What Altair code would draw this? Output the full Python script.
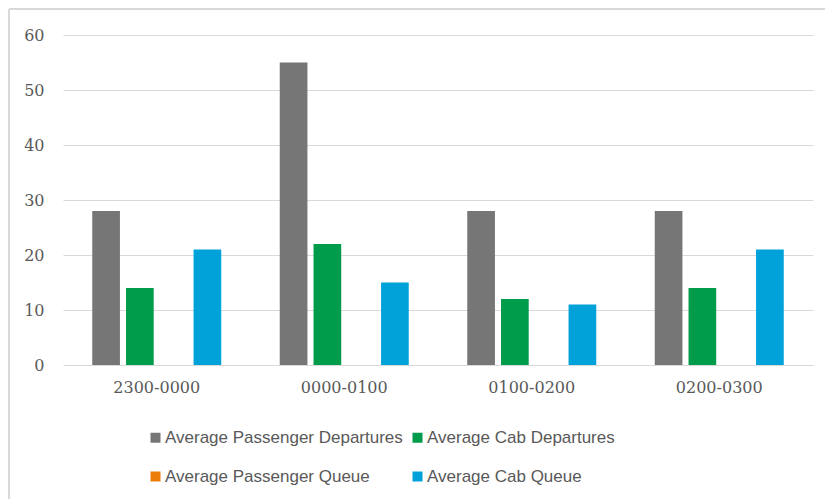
import altair as alt
import pandas as pd

# Hourly time slots on the x axis
slots = ["2300-0000", "0000-0100", "0100-0200", "0200-0300"]

# Series names, in legend / bar order
series = [
    "Average Passenger Departures",
    "Average Cab Departures",
    "Average Passenger Queue",
    "Average Cab Queue",
]
colors = ["#767676", "#009B4B", "#ED7D0A", "#00A2D9"]

# Values per series, one per time slot
passenger_departures = [28, 55, 28, 28]
cab_departures = [14, 22, 12, 14]
passenger_queue = [0, 0, 0, 0]
cab_queue = [21, 15, 11, 21]

values = [passenger_departures, cab_departures, passenger_queue, cab_queue]
rows = []
for name, vals in zip(series, values):
    for slot, v in zip(slots, vals):
        rows.append({"slot": slot, "series": name, "value": v})
df = pd.DataFrame(rows)

W, H = 750, 330
PAD_L, PAD_T = 63, 35
PAD_R, PAD_B = 12, 134

bars = alt.Chart(df).mark_bar().encode(
    x=alt.X(
        "slot:N",
        sort=slots,
        scale=alt.Scale(paddingInner=0.312, paddingOuter=0.156),
        axis=alt.Axis(
            title=None,
            labelAngle=0,
            domain=False,
            ticks=False,
            labelPadding=14,
            labelFont="DejaVu Serif",
            labelFontSize=16,
            labelColor="#595959",
        ),
    ),
    xOffset=alt.XOffset(
        "series:N",
        sort=series,
        scale=alt.Scale(paddingInner=0.18, paddingOuter=0),
    ),
    y=alt.Y(
        "value:Q",
        scale=alt.Scale(domain=[0, 60]),
        axis=alt.Axis(
            title=None,
            values=[0, 10, 20, 30, 40, 50, 60],
            domain=False,
            ticks=False,
            labelPadding=19,
            labelFont="DejaVu Serif",
            labelFontSize=16,
            labelColor="#595959",
            gridColor="#D9D9D9",
            gridWidth=1,
        ),
    ),
    color=alt.Color(
        "series:N",
        sort=series,
        scale=alt.Scale(domain=series, range=colors),
        legend=alt.Legend(
            title=None,
            orient="none",
            direction="horizontal",
            legendX=84,
            legendY=394,
            columns=2,
            columnPadding=6,
            rowPadding=21,
            symbolType="square",
            symbolSize=100,
            symbolStrokeWidth=0,
            labelOffset=1,
            labelFont="Liberation Sans",
            labelFontSize=17,
            labelColor="#595959",
            labelLimit=400,
            padding=0,
        ),
    ),
)

# Outer chart-area frame: top and left edges
frame_top = alt.Chart().mark_rule(color="#D9D9D9", strokeWidth=2).encode(
    x=alt.value(-PAD_L + 9), x2=alt.value(W + 20), y=alt.value(-PAD_T + 9)
)
frame_left = alt.Chart().mark_rule(color="#D9D9D9", strokeWidth=2).encode(
    x=alt.value(-PAD_L + 9), y=alt.value(-PAD_T + 9), y2=alt.value(H + PAD_B)
)

chart = (
    alt.layer(bars, frame_top, frame_left)
    .properties(
        width=W,
        height=H,
        padding={"left": PAD_L, "top": PAD_T, "right": PAD_R, "bottom": PAD_B},
        autosize=alt.AutoSizeParams(type="none"),
        background="white",
    )
    .configure_view(stroke=None)
)

chart.save("out.html", embed_options={"renderer": "svg", "actions": False})
